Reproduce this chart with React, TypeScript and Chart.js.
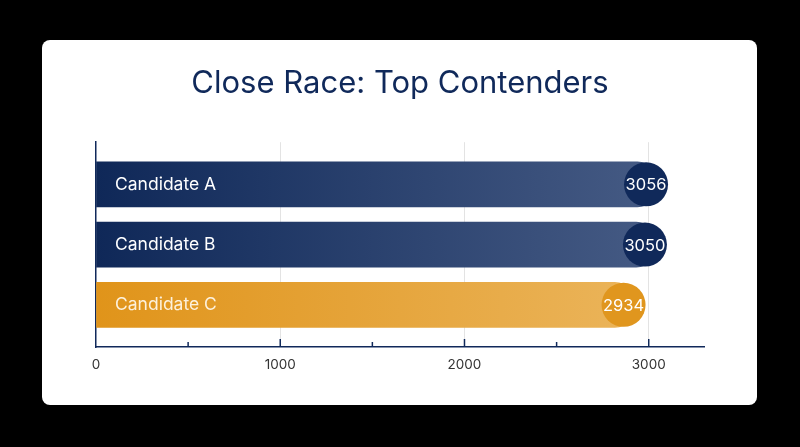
import React, { useEffect, useRef } from "react";
import { Chart, registerables } from "chart.js";

Chart.register(...registerables);

const categories = ["Candidate A", "Candidate B", "Candidate C"];
const values = [3056, 3050, 2934];
const tickValues = [0, 1000, 2000, 3000];
const titleText = "Close Race: Top Contenders";

const NAVY = "#10295a";
const ORANGE = "#e0961e";
const FONT = "Inter, 'Noto Sans', sans-serif";

export default function App() {
  const ref = useRef<HTMLCanvasElement | null>(null);

  useEffect(() => {
    document.body.style.margin = "0";
    document.body.style.background = "#000";
    const canvas = ref.current;
    if (!canvas) return;

    const gradFor = (ctx: any, i: number) => {
      const chart = ctx.chart;
      const area = chart.chartArea;
      if (!area) return i === 2 ? ORANGE : NAVY;
      const g = chart.ctx.createLinearGradient(area.left, 0, area.right, 0);
      if (i === 2) {
        g.addColorStop(0, "#e0941a");
        g.addColorStop(1, "#ecb862");
      } else {
        g.addColorStop(0, "#0f2858");
        g.addColorStop(1, "#4a5f88");
      }
      return g;
    };

    const overlay = {
      id: "overlay",
      afterDatasetsDraw(chart: any) {
        const c = chart.ctx;
        const meta = chart.getDatasetMeta(0);
        const xs = chart.scales.x;
        const ys = chart.scales.y;
        c.save();
        meta.data.forEach((bar: any, i: number) => {
          const y = bar.y;
          c.fillStyle = i === 2 ? "#fdf1dc" : "#ffffff";
          c.font = `17.5px ${FONT}`;
          c.textAlign = "left";
          c.textBaseline = "middle";
          c.fillText(categories[i], xs.left + 19, y);
          const cx = bar.x - 13;
          c.beginPath();
          c.arc(cx, y, 22, 0, Math.PI * 2);
          c.fillStyle = i === 2 ? ORANGE : NAVY;
          c.fill();
          c.fillStyle = "#ffffff";
          c.font = `16.5px ${FONT}`;
          c.textAlign = "center";
          c.fillText(String(values[i]), cx, y + 1);
        });
        c.strokeStyle = NAVY;
        c.lineWidth = 1.5;
        xs.ticks.forEach((t: any) => {
          if (t.value === 0 || t.value > 3000) return;
          const px = xs.getPixelForValue(t.value);
          const len = t.value % 1000 === 0 ? 8 : 5;
          c.beginPath();
          c.moveTo(px, ys.bottom);
          c.lineTo(px, ys.bottom - len);
          c.stroke();
        });
        c.restore();
      },
    };

    const chart = new Chart(canvas, {
      type: "bar",
      data: {
        datasets: [
          {
            data: values.map((v, i) => ({ x: v, y: i })),
            backgroundColor: (ctx: any) => gradFor(ctx, ctx.dataIndex),
            barThickness: 45,
            borderWidth: 0,
            borderRadius: { topRight: 22, bottomRight: 22, topLeft: 0, bottomLeft: 0 },
            borderSkipped: false,
          },
        ],
      },
      plugins: [overlay],
      options: {
        indexAxis: "y",
        animation: false,
        responsive: false,
        layout: { padding: { left: 54, right: 53, top: 0, bottom: 0 } },
        plugins: {
          legend: { display: false },
          tooltip: { enabled: false },
          title: {
            display: true,
            text: titleText,
            color: NAVY,
            font: { family: FONT, size: 31, weight: "normal" as any },
            padding: { top: 25, bottom: 40 },
          },
        },
        scales: {
          x: {
            type: "linear",
            min: 0,
            max: 3300,
            afterBuildTicks(scale: any) {
              scale.ticks = [0, 500, 1000, 1500, 2000, 2500, 3000, 3300].map((v) => ({ value: v }));
            },
            afterFit(scale: any) {
              scale.height = 58;
            },
            ticks: {
              autoSkip: false,
              maxRotation: 0,
              color: "#333",
              font: { family: FONT, size: 13.5 },
              padding: 10,
              callback: (v: any) => (tickValues.includes(Number(v)) ? String(v) : ""),
            },
            grid: {
              drawTicks: false,
              color: (ctx: any) =>
                ctx.tick && tickValues.includes(ctx.tick.value) && ctx.tick.value !== 0
                  ? "#e3e3e3"
                  : "rgba(0,0,0,0)",
            },
            border: { color: NAVY, width: 1.5 },
          },
          y: {
            type: "linear",
            reverse: true,
            offset: false,
            min: -0.7,
            max: 2.7,
            ticks: { display: false },
            grid: { display: false, drawTicks: false, offset: false },
            afterFit(scale: any) {
              scale.width = 0;
            },
            border: { color: NAVY, width: 1.5 },
          },
        },
      },
    });
    return () => chart.destroy();
  }, []);

  return (
    <div style={{ position: "relative", width: 800, height: 447, background: "#000" }}>
      <div
        style={{
          position: "absolute",
          left: 42,
          top: 40,
          width: 715,
          height: 365,
          background: "#fff",
          borderRadius: 8,
          overflow: "hidden",
        }}
      >
        <canvas ref={ref} width={715} height={365} style={{ display: "block" }} />
      </div>
    </div>
  );
}
